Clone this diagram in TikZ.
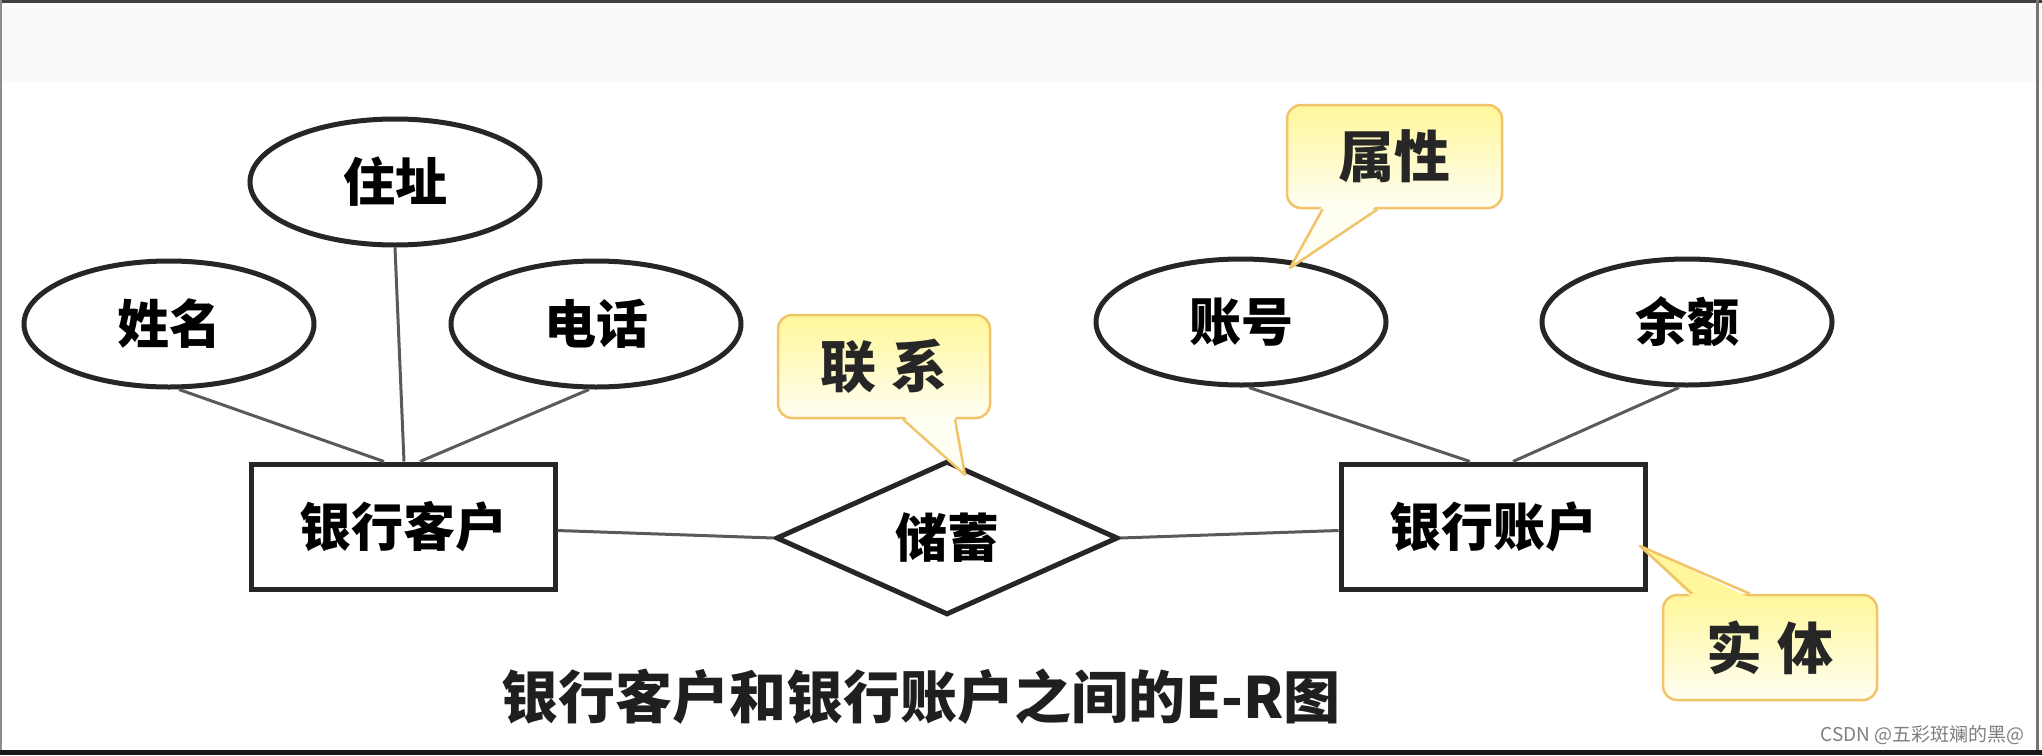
\documentclass[tikz,border=0pt]{standalone}
\usepackage{fontspec}
\newfontfamily\cjk{Noto Sans CJK SC}
\usetikzlibrary{shapes.geometric,calc}
\definecolor{shapeline}{HTML}{262626}
\definecolor{connline}{HTML}{5A5A5A}
\definecolor{calloutline}{HTML}{F1C46A}
\definecolor{calltop}{HTML}{FFF79A}
\definecolor{callbot}{HTML}{FFFEF2}
\definecolor{bandgray}{HTML}{FAFAFA}
\begin{document}
\begin{tikzpicture}[x=1pt,y=-1pt,
  attr/.style={ellipse, draw=shapeline, line width=5pt, fill=white, inner sep=0pt,
    minimum width=290pt, minimum height=126pt,
    font=\cjk\bfseries\fontsize{52}{52}\selectfont},
  ent/.style={rectangle, draw=shapeline, line width=5pt, fill=white, inner sep=0pt,
    minimum width=304pt, minimum height=125pt,
    font=\cjk\bfseries\fontsize{52}{52}\selectfont},
  rel/.style={diamond, draw=shapeline, line width=5pt, fill=white, inner sep=0pt,
    minimum width=342pt, minimum height=142pt,
    font=\cjk\bfseries\fontsize{52}{52}\selectfont},
  conn/.style={draw=connline, line width=3pt},
  callbox/.style={rectangle, rounded corners=14pt, draw=calloutline, line width=2.5pt,
    top color=calltop, bottom color=callbot, inner sep=0pt,
    minimum width=212pt, minimum height=103pt, text=black!85,
    font=\cjk\bfseries\fontsize{56}{56}\selectfont},
  ptrline/.style={draw=calloutline, line width=2.5pt, line join=round},
]
\useasboundingbox (0,0) rectangle (2042,755);
\fill[white] (0,0) rectangle (2042,755);
\fill[bandgray] (0,0) rectangle (2042,82);
% frame of the screenshot
\fill[black!75] (0,0) rectangle (2042,2.5);
\fill[black!45] (0,0) rectangle (1.5,755);
\fill[black!55] (2036,0) rectangle (2039,755);
\fill[black!90] (0,750) rectangle (2042,755);

% attributes
\node[attr] (xm) at (169,324) {姓名};
\node[attr] (zz) at (395,182) {住址};
\node[attr] (dh) at (596,324) {电话};
\node[attr] (zh) at (1241,322) {账号};
\node[attr] (ye) at (1687,322) {余额};

% entities and relationship
\node[ent] (kh) at (403,526.5) {银行客户};
\node[ent] (yz) at (1493,526.5) {银行账户};
\node[rel] (cx) at (947,538) {储蓄};

% connectors
\draw[conn] ($(xm.south)+(10,0)$) -- ($(kh.north)+(-19,0)$);
\draw[conn] (zz.south) -- ($(kh.north)+(1,0)$);
\draw[conn] ($(dh.south)+(-7,0)$) -- ($(kh.north)+(17,0)$);
\draw[conn] ($(zh.south)+(8,0)$) -- ($(yz.north)+(-23,0)$);
\draw[conn] ($(ye.south)+(-8,0)$) -- ($(yz.north)+(20,0)$);
\draw[conn] ($(kh.east)+(0,4)$) -- (cx.west);
\draw[conn] (cx.east) -- ($(yz.west)+(0,4)$);

% callouts
\node[callbox] (lx) at (884,366.5) {联\hspace{16pt}系};
\coordinate (lxtip) at (965,475);
\fill[callbot] ($(lx.south)+(19,-4)$) -- (lxtip) -- ($(lx.south)+(71,-4)$) -- cycle;
\draw[ptrline] ($(lx.south)+(19,0)$) -- (lxtip) -- ($(lx.south)+(71,0)$);

\node[callbox, minimum width=215pt] (sx) at (1394.5,156.5) {属性};
\coordinate (sxtip) at (1290,268);
\fill[callbot] ($(sx.south)+(-72,-4)$) -- (sxtip) -- ($(sx.south)+(-17,-4)$) -- cycle;
\draw[ptrline] ($(sx.south)+(-72,0)$) -- (sxtip) -- ($(sx.south)+(-17,0)$);

\node[callbox, minimum width=214pt, minimum height=105pt] (st) at (1770,647.5) {实\hspace{16pt}体};
\coordinate (sttip) at (1640,546);
\fill[calltop] ($(st.north)+(-78,4)$) -- (sttip) -- ($(st.north)+(-20,4)$) -- cycle;
\draw[ptrline] ($(st.north)+(-78,0)$) -- (sttip) -- ($(st.north)+(-20,0)$);

% caption
\node[font=\cjk\bfseries\fontsize{57}{57}\selectfont, text=black!88] (title) at (921,697) {银行客户和银行账户之间的E-R图};

% watermark
\node[font=\cjk\fontsize{19}{19}\selectfont, text=black!50, anchor=east] (wm) at (2028,735) {CSDN @五彩斑斓的黑@};
\end{tikzpicture}
\end{document}
